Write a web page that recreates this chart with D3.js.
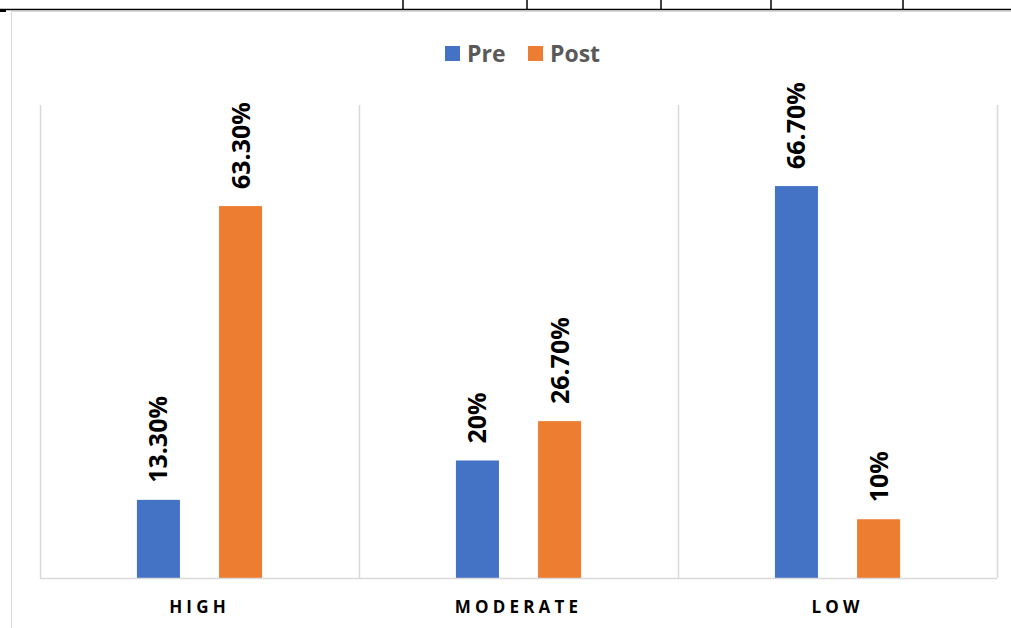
<!DOCTYPE html>
<html><head><meta charset="utf-8">
<script src="https://cdn.jsdelivr.net/npm/d3@7"></script>
<style>html,body{margin:0;padding:0;background:#fff;}svg{display:block;}</style>
</head><body>
<svg id="c" width="1011" height="628"></svg>
<script>
const categories = ["HIGH", "MODERATE", "LOW"];
const seriesNames = ["Pre", "Post"];
const preValues = [13.3, 20, 66.7];
const postValues = [63.3, 26.7, 10];
const preLabels = ["13.30%", "20%", "66.70%"];
const postLabels = ["63.30%", "26.70%", "10%"];
const colors = ["#4472C4", "#ED7D31"];

(function(){
const svg = d3.select("#c");
const font = "'Open Sans', 'Liberation Sans', sans-serif";

// page decorations (table border above chart)
svg.append("line").attr("x1",0).attr("x2",1011).attr("y1",9.5).attr("y2",9.5).attr("stroke","#000").attr("stroke-width",1.5);
[403,527,661,771,903].forEach(x=>svg.append("line").attr("x1",x).attr("x2",x).attr("y1",0).attr("y2",10).attr("stroke","#000").attr("stroke-width",1.5));
svg.append("rect").attr("x",0).attr("y",9).attr("width",6).attr("height",3).attr("fill","#000");
// chart border
svg.append("rect").attr("x",11.5).attr("y",11.5).attr("width",1100).attr("height",700).attr("fill","none").attr("stroke","#d9d9d9").attr("stroke-width",1);

const pLeft = 40, pRight = 997, pTop = 105, pBottom = 578;
const x0 = d3.scaleBand().domain(categories).range([pLeft, pRight]).padding(0);
const x1 = d3.scaleBand().domain(seriesNames).range([0, x0.bandwidth()]).paddingInner(0.476).paddingOuter(1.18);
const y = d3.scaleLinear().domain([0, 80.5]).range([pBottom, pTop]);

// vertical gridlines at category boundaries
const bounds = categories.map(c=>x0(c)).concat([pRight]);
svg.append("g").selectAll("line").data(bounds).join("line")
  .attr("x1",d=>d+0.5).attr("x2",d=>d+0.5).attr("y1",pTop).attr("y2",pBottom)
  .attr("stroke","#d9d9d9").attr("stroke-width",1.5);

const data = categories.map((c,i)=>({cat:c, vals:[
  {s:"Pre", v:preValues[i], l:preLabels[i]},
  {s:"Post", v:postValues[i], l:postLabels[i]}]}));

const g = svg.append("g").selectAll("g").data(data).join("g")
  .attr("transform", d=>`translate(${x0(d.cat)},0)`);
g.selectAll("rect").data(d=>d.vals).join("rect")
  .attr("x", d=>x1(d.s)).attr("width", x1.bandwidth())
  .attr("y", d=>y(d.v)).attr("height", d=>pBottom - y(d.v))
  .attr("fill", (d,i)=>colors[i]);
g.selectAll("text").data(d=>d.vals).join("text")
  .attr("transform", d=>`translate(${x1(d.s)+x1.bandwidth()/2+9},${y(d.v)-17}) rotate(-90)`)
  .attr("font-family", font).attr("font-weight", 700).attr("font-size", 25)
  .attr("fill", "#000").attr("text-anchor","start")
  .text(d=>d.l);

// baseline axis
const xAxis = d3.axisBottom(x0).tickSize(0).tickPadding(0);
const ax = svg.append("g").attr("transform",`translate(0,${pBottom})`).call(xAxis);
ax.select(".domain").attr("stroke","#d9d9d9").attr("stroke-width",1.5).attr("d",`M${pLeft},0.5H${pRight}`);
ax.selectAll("text").attr("font-family", font).attr("font-weight",700).attr("font-size",17)
  .attr("fill","#000").attr("letter-spacing","4.2px").attr("dy",0).attr("y",35);

// legend
const legend = svg.append("g");
const legX = [445, 528];
seriesNames.forEach((s,i)=>{
  legend.append("rect").attr("x",legX[i]).attr("y",46).attr("width",15).attr("height",15).attr("fill",colors[i]);
  legend.append("text").attr("x",legX[i]+22).attr("y",62).attr("font-family",font).attr("font-weight",700)
    .attr("font-size",23).attr("fill","#595959").text(s);
});
})();
</script>
</body></html>
